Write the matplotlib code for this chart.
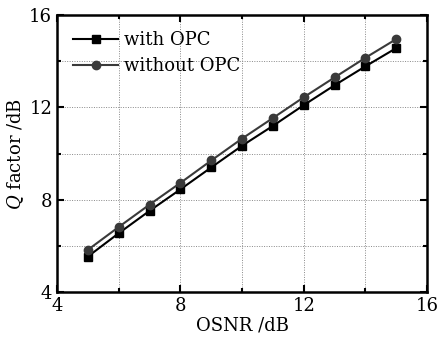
import matplotlib
matplotlib.use('Agg')
import matplotlib.pyplot as plt
from matplotlib.ticker import MultipleLocator

plt.rcParams['font.family'] = ['DejaVu Serif']
plt.rcParams['mathtext.fontset'] = 'dejavuserif'

osnr = [5, 6, 7, 8, 9, 10, 11, 12, 13, 14, 15]
q_with = [5.54, 6.55, 7.52, 8.45, 9.4, 10.34, 11.2, 12.1, 12.96, 13.78, 14.57]
q_without = [5.83, 6.82, 7.79, 8.73, 9.7, 10.65, 11.54, 12.44, 13.3, 14.15, 14.96]

fig = plt.figure(figsize=(4.39, 3.42), dpi=100)
ax = fig.add_axes([0.130, 0.146, 0.843, 0.810])

ax.plot(osnr, q_with, color='black', lw=1.5, marker='s', ms=5.5, label='with OPC')
ax.plot(osnr, q_without, color='#3a3a3a', lw=1.5, marker='o', ms=6, label='without OPC')

ax.set_xlim(4, 16)
ax.set_ylim(4, 16)
ax.xaxis.set_major_locator(MultipleLocator(4))
ax.yaxis.set_major_locator(MultipleLocator(4))
ax.xaxis.set_minor_locator(MultipleLocator(2))
ax.yaxis.set_minor_locator(MultipleLocator(2))
ax.grid(True, which='both', ls=(0, (1, 1.5)), color='#888888', lw=0.7)
ax.tick_params(which='both', direction='in', top=True, right=True, labelsize=13, width=1.5)
ax.tick_params(which='major', length=5)
ax.tick_params(which='minor', length=3)
for s in ax.spines.values():
    s.set_linewidth(1.8)

ax.set_xlabel('OSNR /dB', fontsize=13, labelpad=1)
ax.set_ylabel('$Q$ factor /dB', fontsize=13, labelpad=2)

ax.legend(loc='upper left', frameon=False, fontsize=13, handlelength=2.5,
          borderaxespad=0.5, labelspacing=0.45, handletextpad=0.3)

fig.savefig('out.png', dpi=100)
